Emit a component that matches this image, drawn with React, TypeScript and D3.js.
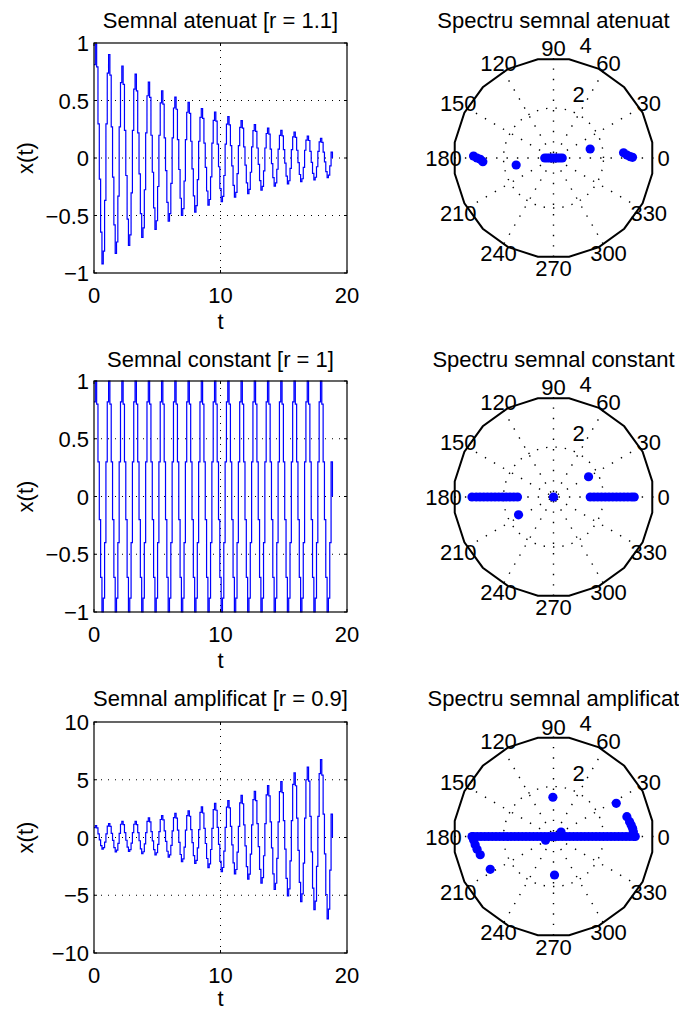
import React from 'react';
import * as d3 from 'd3';

const W = 679;
const H = 1011;
const FONT = '"Liberation Sans", Arial, Helvetica, sans-serif';
const FS = 22;

// ---- time-signal data ----
const xTicks = [0, 10, 20];
const yTicksUnit = [-1, -0.5, 0, 0.5, 1];
const yTicksAmp = [-10, -5, 0, 5, 10];
const cycleLength = 1.047; // spacing between successive peaks in t
const signalEnd = 18.85;
// stair levels within one oscillation (normalised to that cycle's max / |min|)
const stepLevels = [0.82, 1, 0.8, 0.3, -0.2, -0.7, -1, -0.88, -0.4, 0.3];

const atenuatMax = [0.99, 0.9, 0.8, 0.73, 0.66, 0.585, 0.53, 0.485, 0.43, 0.4, 0.36, 0.325, 0.29, 0.26, 0.24, 0.225, 0.19, 0.17];
const atenuatMin = [-0.92, -0.83, -0.76, -0.69, -0.62, -0.55, -0.5, -0.47, -0.41, -0.38, -0.34, -0.31, -0.28, -0.245, -0.225, -0.205, -0.19, -0.17];
const constantMax = [1, 1, 1, 1, 1, 1, 1, 1, 1, 1, 1, 1, 1, 1, 1, 1, 1, 1];
const constantMin = [-1, -1, -1, -1, -1, -1, -1, -1, -1, -1, -1, -1, -1, -1, -1, -1, -1, -1];
const amplificatMax = [1.04, 1.2, 1.4, 1.4, 1.7, 1.9, 2.1, 2.3, 2.65, 2.95, 3.2, 3.65, 4.0, 4.5, 4.85, 5.6, 6.1, 6.75];
const amplificatMin = [-1.0, -1.25, -1.2, -1.4, -1.5, -1.7, -2.1, -2.25, -2.6, -2.95, -3.15, -3.6, -3.95, -4.5, -5.05, -5.55, -6.25, -7.05];

// ---- spectrum data: [angle in degrees, magnitude] ----
const spectruAtenuat: [number, number][] = [
  [0, 0.05], [0, 0.15], [0, 0.25], [0, 0.35], [180, 0.05], [180, 0.15], [180, 0.25], [180, 0.35],
  [13.8, 1.51], [190.6, 1.52],
  [4.3, 2.81], [2.3, 2.94], [1, 3.07], [0.5, 3.16],
  [178.6, 3.2], [180, 3.06], [181, 2.93], [183, 2.83],
];
const spectruConstant: [number, number][] = [
  [0, 0], [30, 1.62], [207, 1.57],
  [0, 1.47], [0, 1.62], [0, 1.77], [0, 1.92], [0, 2.07], [0, 2.22], [0, 2.37], [0, 2.52], [0, 2.67], [0, 2.82], [0, 2.97], [0, 3.12], [0, 3.23],
  [180, 1.44], [180, 1.59], [180, 1.74], [180, 1.89], [180, 2.04], [180, 2.19], [180, 2.34], [180, 2.49], [180, 2.64], [180, 2.79], [180, 2.94], [180, 3.09], [180, 3.26],
];
const spectruAmplificat: [number, number][] = [
  [0, 0.05], [0, 0.2], [0, 0.35], [0, 0.5], [0, 0.65], [0, 0.8], [0, 0.95], [0, 1.1], [0, 1.25], [0, 1.4], [0, 1.55], [0, 1.7], [0, 1.85], [0, 2.0], [0, 2.15], [0, 2.3], [0, 2.45], [0, 2.6], [0, 2.75], [0, 2.9], [0, 3.05], [0, 3.2], [0, 3.27],
  [180, 0.05], [180, 0.2], [180, 0.35], [180, 0.5], [180, 0.65], [180, 0.8], [180, 0.95], [180, 1.1], [180, 1.25], [180, 1.4], [180, 1.55], [180, 1.7], [180, 1.85], [180, 2.0], [180, 2.15], [180, 2.3], [180, 2.45], [180, 2.6], [180, 2.75], [180, 2.9], [180, 3.05], [180, 3.2], [180, 3.26],
  [205, 0.35], [30, 0.35],
  [15.1, 3.04], [11, 3.1], [8.4, 3.14], [5.9, 3.18], [3.4, 3.2],
  [182.5, 3.2], [186, 3.15], [189.5, 3.1], [194, 3.02],
  [27.9, 2.84], [207.4, 2.85], [90.9, 1.57], [271.5, 1.54],
];
const angleLabels = [0, 30, 60, 90, 120, 150, 180, 210, 240, 270, 300, 330];
const rhoLabels = [2, 4];
const rhoMax = 4;

function buildSeries(maxs: number[], mins: number[]): [number, number][] {
  const pts: [number, number][] = [];
  const n = stepLevels.length;
  maxs.forEach((mx, k) => {
    stepLevels.forEach((lv, i) => {
      const t = ((k * n + i) * cycleLength) / n;
      if (t < signalEnd) pts.push([t, lv >= 0 ? lv * mx : lv * Math.abs(mins[k])]);
    });
  });
  pts.push([signalEnd, 0]);
  return pts;
}

const fmt = (v: number) => (v < 0 ? '\u2212' + String(Math.abs(v)) : String(v));

type TimeProps = { id: string; top: number; bottom: number; title: string; titleY: number; yDomain: [number, number]; yTicks: number[]; data: [number, number][] };

function TimePlot({ id, top, bottom, title, titleY, yDomain, yTicks, data }: TimeProps) {
  const left = 94;
  const right = 347;
  const x = d3.scaleLinear().domain([0, 20]).range([left, right]);
  const y = d3.scaleLinear().domain(yDomain).range([bottom, top]);
  const line = d3.line<[number, number]>().x((d) => x(d[0])).y((d) => y(d[1])).curve(d3.curveStepAfter);
  const tl = 3;
  return (
    <g>
      <defs>
        <clipPath id={id}>
          <rect x={left} y={top - 1} width={right - left} height={bottom - top + 2} />
        </clipPath>
      </defs>
      {xTicks.slice(1, -1).map((t) => (
        <line key={'gx' + t} x1={x(t)} x2={x(t)} y1={top} y2={bottom} stroke="#000" strokeWidth={1} strokeDasharray="1,6" />
      ))}
      {yTicks.slice(1, -1).map((t) => (
        <line key={'gy' + t} x1={left} x2={right} y1={y(t)} y2={y(t)} stroke="#000" strokeWidth={1} strokeDasharray="1,6" />
      ))}
      <path d={line(data) || ''} fill="none" stroke="#0000ff" strokeWidth={1.2} clipPath={`url(#${id})`} />
      <rect x={left} y={top} width={right - left} height={bottom - top} fill="none" stroke="#000" strokeWidth={1.2} />
      {xTicks.map((t) => (
        <g key={'tx' + t}>
          <line x1={x(t)} x2={x(t)} y1={bottom} y2={bottom - tl} stroke="#000" />
          <line x1={x(t)} x2={x(t)} y1={top} y2={top + tl} stroke="#000" />
          <text x={x(t)} y={bottom + 30} textAnchor="middle" fontSize={FS} fontFamily={FONT}>{fmt(t)}</text>
        </g>
      ))}
      {yTicks.map((t) => (
        <g key={'ty' + t}>
          <line x1={left} x2={left + tl} y1={y(t)} y2={y(t)} stroke="#000" />
          <line x1={right} x2={right - tl} y1={y(t)} y2={y(t)} stroke="#000" />
          <text x={left - 5} y={y(t) + 8} textAnchor="end" fontSize={FS} fontFamily={FONT}>{fmt(t)}</text>
        </g>
      ))}
      <text x={(left + right) / 2} y={Math.min(bottom + 56, 1006)} textAnchor="middle" fontSize={FS} fontFamily={FONT}>t</text>
      <text transform={`translate(33,${(top + bottom) / 2}) rotate(-90)`} textAnchor="middle" fontSize={FS} fontFamily={FONT}>x(t)</text>
      <text x={(left + right) / 2} y={titleY + 8} textAnchor="middle" fontSize={FS} fontFamily={FONT}>{title}</text>
    </g>
  );
}

type PolarProps = { cx: number; cy: number; title: string; titleY: number; data: [number, number][] };

function PolarPlot({ cx, cy, title, titleY, data }: PolarProps) {
  const R = 100;
  const r = d3.scaleLinear().domain([0, rhoMax]).range([0, R]);
  const px = (deg: number, rho: number) => cx + r(rho) * Math.cos((deg * Math.PI) / 180);
  const py = (deg: number, rho: number) => cy - r(rho) * Math.sin((deg * Math.PI) / 180);
  const nSides = 20;
  const outer = d3.range(nSides).map((i) => {
    const a = 9 + (360 / nSides) * i;
    return [px(a, rhoMax), py(a, rhoMax)].join(',');
  }).join(' ');
  const inner = d3.range(72).map((i) => {
    const a = i * 5;
    return [px(a, 2), py(a, 2)].join(',');
  }).join(' ');
  return (
    <g>
      {angleLabels.slice(0, 6).map((a) => (
        <line key={'sp' + a} x1={px(a, rhoMax)} y1={py(a, rhoMax)} x2={px(a + 180, rhoMax)} y2={py(a + 180, rhoMax)} stroke="#000" strokeWidth={1.4} strokeDasharray="1.4,9" />
      ))}
      <polygon points={inner} fill="none" stroke="#000" strokeWidth={1.4} strokeDasharray="1.4,8" />
      <polygon points={outer} fill="none" stroke="#000" strokeWidth={2} />
      {angleLabels.map((a) => (
        <text key={'al' + a} x={px(a, rhoMax * 1.1)} y={py(a, rhoMax * 1.1) + 8} textAnchor="middle" fontSize={FS} fontFamily={FONT}>{a}</text>
      ))}
      {rhoLabels.map((v) => (
        <text key={'rl' + v} x={px(82, v) + 12} y={py(82, v) - 6} textAnchor="start" fontSize={FS} fontFamily={FONT}>{v}</text>
      ))}
      {data.map((d, i) => (
        <circle key={'p' + i} cx={px(d[0], d[1])} cy={py(d[0], d[1])} r={4.6} fill="#0000ff" />
      ))}
      <text x={cx} y={titleY + 8} textAnchor="middle" fontSize={FS} fontFamily={FONT}>{title}</text>
    </g>
  );
}

export default function App() {
  const sA = buildSeries(atenuatMax, atenuatMin);
  const sC = buildSeries(constantMax, constantMin);
  const sP = buildSeries(amplificatMax, amplificatMin);
  return (
    <svg width={W} height={H} viewBox={`0 0 ${W} ${H}`} style={{ position: 'absolute', left: 0, top: 0, background: '#fff' }}>
      <rect x={0} y={0} width={W} height={H} fill="#fff" />
      <TimePlot id="c1" top={43} bottom={273} title="Semnal atenuat [r = 1.1]" titleY={20} yDomain={[-1, 1]} yTicks={yTicksUnit} data={sA} />
      <TimePlot id="c2" top={381} bottom={612} title="Semnal constant [r = 1]" titleY={359} yDomain={[-1, 1]} yTicks={yTicksUnit} data={sC} />
      <TimePlot id="c3" top={722} bottom={953} title="Semnal amplificat [r = 0.9]" titleY={698} yDomain={[-10, 10]} yTicks={yTicksAmp} data={sP} />
      <PolarPlot cx={553.5} cy={158} title="Spectru semnal atenuat" titleY={20} data={spectruAtenuat} />
      <PolarPlot cx={553.5} cy={497} title="Spectru semnal constant" titleY={359} data={spectruConstant} />
      <PolarPlot cx={553.5} cy={836.5} title="Spectru semnal amplificat" titleY={698} data={spectruAmplificat} />
    </svg>
  );
}
